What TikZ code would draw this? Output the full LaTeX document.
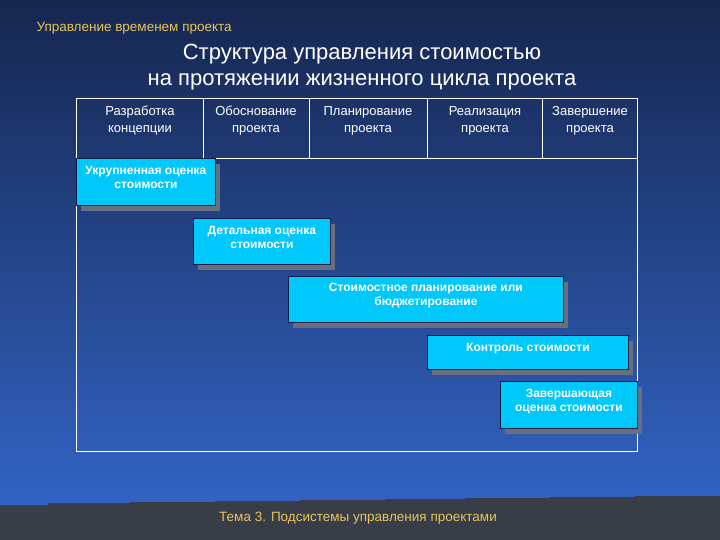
\documentclass[tikz,border=0pt]{standalone}
\usepackage{fontspec}
\setmainfont{Liberation Sans}
\usetikzlibrary{shadows}

\definecolor{skytop}{HTML}{16264F}
\definecolor{skybot}{HTML}{3468CC}
\definecolor{band}{HTML}{383D48}
\definecolor{gold}{HTML}{E8C55A}
\definecolor{boxfill}{HTML}{00C8FA}
\definecolor{boxline}{HTML}{10204A}
\definecolor{shadowgrey}{HTML}{687080}

\tikzset{
  phase/.style={text=white, align=center, font=\fontsize{13}{17}\selectfont},
  costbox/.style={draw=boxline, fill=boxfill, line width=0.8pt, anchor=north west,
    inner sep=0pt, general shadow={fill=shadowgrey, shadow xshift=5pt, shadow yshift=-6pt}},
  costtext/.style={text=white, align=center, anchor=north,
    font=\bfseries\fontsize{12}{14}\selectfont},
  grid/.style={draw=white, line width=0.9pt}
}

\begin{document}
\begin{tikzpicture}[x=1pt, y=-1pt]
    \useasboundingbox (0,0) rectangle (720,540);

    % Background
    \shade[top color=skytop, bottom color=skybot] (0,0) rectangle (720,540);
    \fill[band] (0,505) -- (48,505) -- (48,503) -- (130,503) -- (130,502) -- (215,502)
      -- (215,501) -- (300,501) -- (300,500) -- (385,500) -- (385,499) -- (465,499)
      -- (465,498) -- (550,498) -- (550,497) -- (635,497) -- (635,496) -- (720,496)
      -- (720,540) -- (0,540) -- cycle;

    % Titles
    \node[text=gold, anchor=west, font=\fontsize{13.5}{16}\selectfont] (topic) at (33,28) {Управление временем проекта};
    \node[text=white, align=center, font=\fontsize{22}{26}\selectfont] (title) at (362,67)
      {Структура управления стоимостью\\на протяжении жизненного цикла проекта};
    \node[text=gold, font=\fontsize{13.5}{16}\selectfont] (footer) at (358,518) {Тема 3. Подсистемы управления проектами};

    % Table
    \draw[grid] (76,98) rectangle (637,451);
    \draw[grid] (76,158) -- (637,158);
    \foreach \x in {203,309,427,542}
      \draw[grid] (\x,98) -- (\x,158);

    % Phases
    \node[phase] (ph1) at (140,121) {Разработка\\концепции};
    \node[phase] (ph2) at (256,121) {Обоснование\\проекта};
    \node[phase] (ph3) at (368,121) {Планирование\\проекта};
    \node[phase] (ph4) at (485,121) {Реализация\\проекта};
    \node[phase] (ph5) at (590,121) {Завершение\\проекта};

    % Cost stages
    \node[costbox, minimum width=139pt, minimum height=47pt] (b1) at (76,158) {};
    \node[costbox, minimum width=137pt, minimum height=46pt] (b2) at (193,218) {};
    \node[costbox, minimum width=275pt, minimum height=46pt] (b3) at (288,276) {};
    \node[costbox, minimum width=201pt, minimum height=34pt] (b4) at (427,335) {};
    \node[costbox, minimum width=137pt, minimum height=47pt] (b5) at (500,381) {};

    \node[costtext] (t1) at ([yshift=-5pt]b1.north) {Укрупненная оценка\\стоимости};
    \node[costtext] (t2) at ([yshift=-5pt]b2.north) {Детальная оценка\\стоимости};
    \node[costtext] (t3) at ([yshift=-4pt]b3.north) {Стоимостное планирование или\\бюджетирование};
    \node[costtext] (t4) at ([yshift=-5pt]b4.north) {Контроль стоимости};
    \node[costtext] (t5) at ([yshift=-5pt]b5.north) {Завершающая\\оценка стоимости};
\end{tikzpicture}
\end{document}
